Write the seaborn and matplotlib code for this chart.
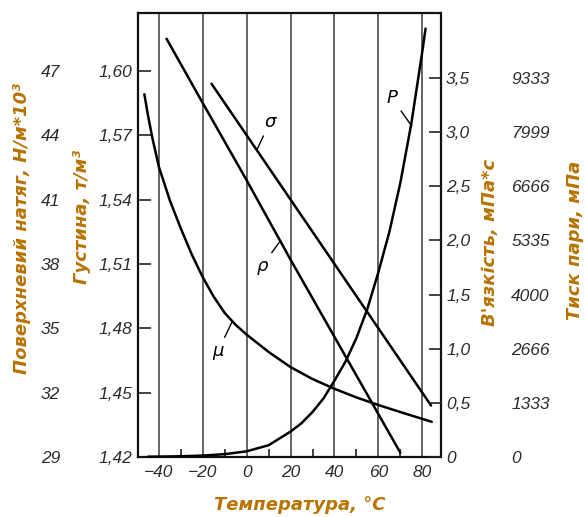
import matplotlib
matplotlib.use("Agg")
import matplotlib.pyplot as plt
import seaborn as sns

# values
temp_rho = [-36.5, -20, 0, 20, 40, 60, 70]
density = [1.615, 1.585, 1.549, 1.512, 1.476, 1.440, 1.422]

temp_sigma = [-16, 0, 20, 40, 60, 84]
tension = [46.4, 44.0, 41.0, 38.0, 35.0, 31.4]

temp_mu = [-46.6, -45, -43, -40, -35, -30, -25, -20, -15, -10, -5, 0, 10, 20, 30, 40, 50, 60, 70, 84.3]
viscosity = [3.35, 3.16, 2.95, 2.68, 2.37, 2.11, 1.87, 1.66, 1.48, 1.33, 1.22, 1.13,
             0.97, 0.83, 0.72, 0.63, 0.55, 0.48, 0.415, 0.325]

temp_p = [-45, -40, -30, -20, -10, 0, 10, 20, 25, 30, 35, 40, 45, 50, 55, 60, 65, 70, 75, 80, 81.5]
pressure = [8, 10, 18, 35, 70, 140, 290, 626, 833, 1108, 1443, 1880, 2347, 2930,
            3651, 4550, 5542, 6750, 8207, 9980, 10550]

x_ticks = [-40, -20, 0, 20, 40, 60, 80]
x_minor = [-30, -10, 10, 30, 50, 70]
rho_ticks = [1.42, 1.45, 1.48, 1.51, 1.54, 1.57, 1.60]
rho_labels = ["1,42", "1,45", "1,48", "1,51", "1,54", "1,57", "1,60"]
sigma_ticks = [29, 32, 35, 38, 41, 44, 47]
mu_ticks = [0, 0.5, 1.0, 1.5, 2.0, 2.5, 3.0, 3.5]
mu_labels = ["0", "0,5", "1,0", "1,5", "2,0", "2,5", "3,0", "3,5"]
p_ticks = [0, 1333, 2666, 4000, 5335, 6666, 7999, 9333]

sns.set_style("ticks")
plt.rcParams["font.family"] = ["DejaVu Sans"]

W, H = 585, 517
fig = plt.figure(figsize=(W / 100, H / 100), dpi=100)
ax = fig.add_axes([138 / W, 1 - 457 / H, (440.5 - 138) / W, (457 - 13) / H])

tick_font = dict(family=["Liberation Sans", "DejaVu Sans"], style="italic",
                 size=12.5, color="#2b2b2b")
label_color = "#b87300"
label_font = dict(family=["DejaVu Sans"], style="italic", weight="bold",
                  size=13, color=label_color)
line_kw = dict(color="black", lw=1.8)

rho_lim = (1.42, 1.627)
mu_lim = (0, 4.10)

# density (main axes)
sns.lineplot(x=temp_rho, y=density, ax=ax, **line_kw)
ax.set_xlim(-49.5, 88.3)
ax.set_ylim(*rho_lim)
ax.set_xticks(x_ticks, labels=[str(t).replace("-", "\u2212") for t in x_ticks], **tick_font)
ax.set_xticks(x_minor, minor=True)
ax.set_yticks(rho_ticks, labels=rho_labels, **tick_font)
ax.tick_params(axis="x", which="major", length=0, pad=6)
ax.tick_params(axis="x", which="minor", direction="in", length=6, width=1.3, color="#333333")
ax.tick_params(axis="y", direction="in", length=9, width=1.2, color="#222222", pad=4)
ax.grid(axis="x", color="#3a3a3a", lw=1.1)
ax.grid(axis="y", visible=False)
for s in ax.spines.values():
    s.set_linewidth(1.6)
    s.set_color("#111111")

# surface tension, same scale as density
ax_s = ax.twinx()
sns.lineplot(x=temp_sigma, y=tension, ax=ax_s, **line_kw)
ax_s.set_ylim(29 + (rho_lim[0] - 1.42) * 100, 29 + (rho_lim[1] - 1.42) * 100)
ax_s.yaxis.set_ticks_position("left")
ax_s.spines["left"].set_position(("outward", 56))
ax_s.set_yticks(sigma_ticks, labels=[str(v) for v in sigma_ticks], **tick_font)
ax_s.tick_params(axis="y", length=0, pad=0)
for s in ax_s.spines.values():
    s.set_visible(False)

# viscosity
ax_mu = ax.twinx()
sns.lineplot(x=temp_mu, y=viscosity, ax=ax_mu, **line_kw)
ax_mu.set_ylim(*mu_lim)
ax_mu.set_yticks(mu_ticks, labels=mu_labels, **tick_font)
ax_mu.tick_params(axis="y", direction="in", length=9, width=1.2, color="#222222", pad=4)
for s in ax_mu.spines.values():
    s.set_visible(False)

# vapour pressure
ax_p = ax.twinx()
sns.lineplot(x=temp_p, y=pressure, ax=ax_p, **line_kw)
ax_p.set_ylim(mu_lim[0] * 8000 / 3, mu_lim[1] * 8000 / 3)
ax_p.spines["right"].set_position(("outward", 51))
ax_p.set_yticks(p_ticks, labels=[str(v) for v in p_ticks], **tick_font)
ax_p.tick_params(axis="y", length=0, pad=0)
for s in ax_p.spines.values():
    s.set_visible(False)

for a in (ax, ax_s, ax_mu, ax_p):
    a.set_xlabel("")
    a.set_ylabel("")

# curve labels with leader lines
lead = dict(arrowstyle="-", color="black", lw=1.0, shrinkA=1, shrinkB=0)
curve_font = dict(style="italic", size=13, color="black", ha="center", va="center")
ax_s.annotate("σ", xy=(4.8, 43.35), xytext=(10.5, 44.6), arrowprops=lead, **curve_font)
ax.annotate("ρ", xy=(15.5, 1.521), xytext=(7.0, 1.509), arrowprops=lead, **curve_font)
ax_mu.annotate("μ", xy=(-6.6, 1.25), xytext=(-13.0, 0.98), arrowprops=lead, **curve_font)
ax_p.annotate("P", xy=(75.2, 8150), xytext=(66.0, 8850), arrowprops=lead, **curve_font)

# axis titles
fig.text(22 / W, 1 - 228 / H, "Поверхневий натяг, Н/м*10³", rotation=90,
         ha="center", va="center", **label_font)
fig.text(82 / W, 1 - 217 / H, "Густина, т/м³", rotation=90,
         ha="center", va="center", **label_font)
fig.text(490 / W, 1 - 242 / H, "В'язкість, мПа*с", rotation=90,
         ha="center", va="center", **label_font)
fig.text(575 / W, 1 - 240 / H, "Тиск пари, мПа", rotation=90,
         ha="center", va="center", **label_font)
fig.text(300 / W, 1 - 505 / H, "Температура, °С", ha="center", va="center", **label_font)

fig.savefig("out.png", dpi=100)
plt.close(fig)
